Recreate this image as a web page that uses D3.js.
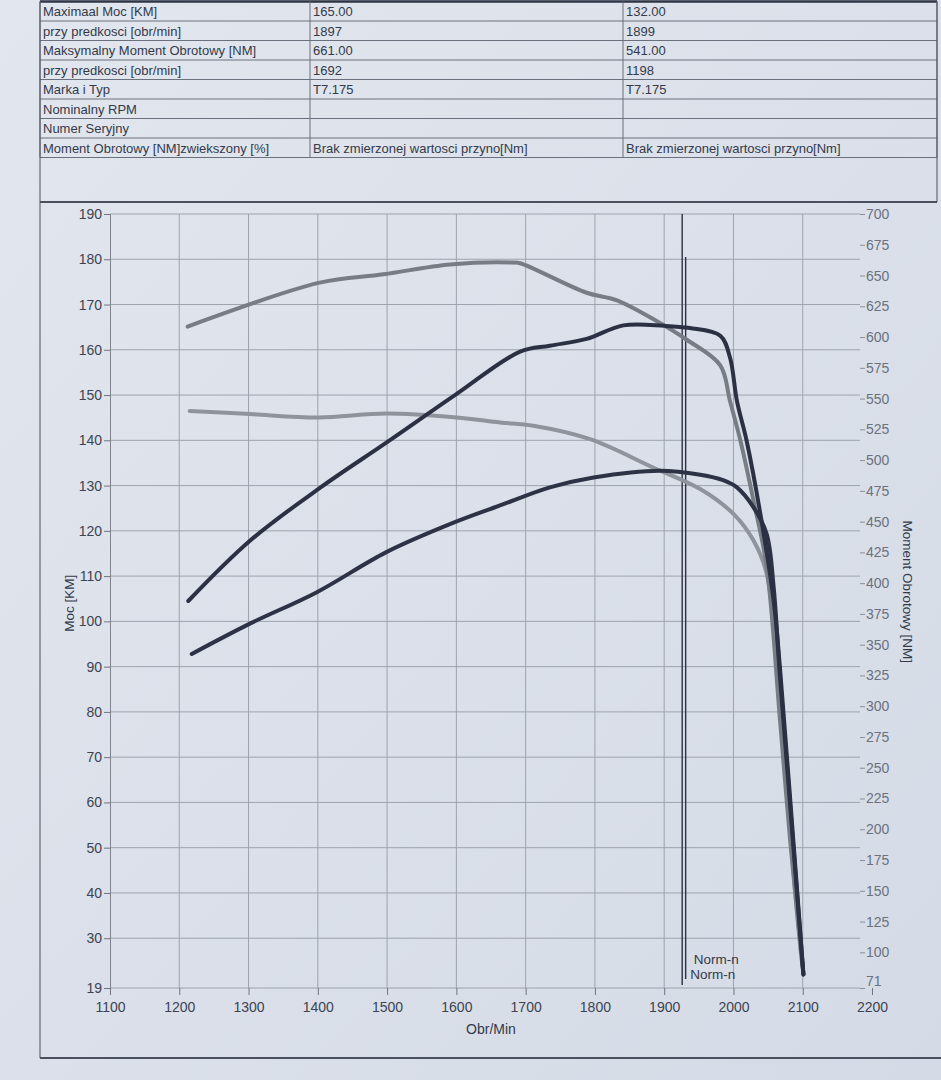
<!DOCTYPE html>
<html>
<head>
<meta charset="utf-8">
<script src="https://cdn.jsdelivr.net/npm/d3@7"></script>
<style>
  body { margin: 0; background: #dbe0ea; }
  svg { display: block; font-family: "Liberation Sans", Arial, sans-serif; }
</style>
</head>
<body>
<script>
// --- table content
const tableLabels = ['Maximaal Moc [KM]', 'przy predkosci [obr/min]', 'Maksymalny Moment Obrotowy [NM]',
  'przy predkosci [obr/min]', 'Marka i Typ', 'Nominalny RPM', 'Numer Seryjny', 'Moment Obrotowy [NM]zwiekszony [%]'];
const tableTuned = ['165.00', '1897', '661.00', '1692', 'T7.175', '', '', 'Brak zmierzonej wartosci przyno[Nm]'];
const tableStock = ['132.00', '1899', '541.00', '1198', 'T7.175', '', '', 'Brak zmierzonej wartosci przyno[Nm]'];

// --- axis ticks
const rpmTicks = [1100, 1200, 1300, 1400, 1500, 1600, 1700, 1800, 1900, 2000, 2100, 2200];
const powerTicks = [19, 30, 40, 50, 60, 70, 80, 90, 100, 110, 120, 130, 140, 150, 160, 170, 180, 190];
const torqueTicks = [71, 100, 125, 150, 175, 200, 225, 250, 275, 300, 325, 350, 375, 400, 425, 450, 475,
  500, 525, 550, 575, 600, 625, 650, 675, 700];

// --- power [KM], tuned (dark, upper)
const rpmPowerTuned = [1213, 1302, 1404, 1500, 1600, 1692, 1735, 1788, 1841, 1900, 1937, 1981, 1995, 2005, 2019, 2038, 2058, 2067, 2082, 2101];
const powerTuned = [104.5, 117.8, 129.6, 139.6, 150.2, 159.6, 160.9, 162.4, 165.4, 165.3, 164.8, 163.1, 158.3, 148.7, 139.9, 124.5, 104.6, 90, 60.5, 22];

// --- power [KM], stock (dark, lower)
const rpmPowerStock = [1218, 1302, 1398, 1499, 1596, 1663, 1735, 1798, 1894, 1952, 1985, 2005, 2029, 2048, 2058, 2067, 2082, 2101];
const powerStock = [92.8, 99.5, 106.4, 115.3, 121.8, 125.6, 129.6, 131.8, 133.3, 132.4, 131.2, 129.6, 125.2, 119.3, 107.6, 88, 59, 22];

// --- torque [NM], tuned (gray, upper)
const rpmTorqueTuned = [1212, 1401, 1495, 1591, 1682, 1692, 1788, 1831, 1889, 1932, 1981, 1995, 2010, 2029, 2048, 2067, 2082, 2101];
const torqueTuned = [608.5, 644, 651, 659, 660.5, 660, 636, 630, 613, 598, 577, 548, 516, 467, 413, 290, 190, 82];

// --- torque [NM], stock (gray, lower)
const rpmTorqueStock = [1215, 1302, 1401, 1499, 1600, 1663, 1711, 1793, 1884, 1952, 2000, 2029, 2048, 2067, 2082, 2096, 2101];
const torqueStock = [540, 537.4, 534.7, 537.9, 534.7, 530.6, 527.9, 517, 494, 476.5, 456.3, 434.6, 407.6, 304.7, 196.5, 107, 83];

// --- nominal rpm markers
const normRpm = [1926, 1931];
const normTop = [190, 180.5];   // in KM
const normLabels = ['Norm-n', 'Norm-n'];

const width = 941, height = 1080;
const ink = '#333a4a';

const svg = d3.create('svg')
  .attr('width', width)
  .attr('height', height)
  .attr('viewBox', [0, 0, width, height]);

const defs = svg.append('defs');
const grad = defs.append('linearGradient').attr('id', 'paper')
  .attr('x1', 0).attr('y1', 0).attr('x2', 1).attr('y2', 1);
grad.append('stop').attr('offset', 0).attr('stop-color', '#e2e6ee');
grad.append('stop').attr('offset', 0.5).attr('stop-color', '#dbe0ea');
grad.append('stop').attr('offset', 1).attr('stop-color', '#d5dbe6');
svg.append('rect').attr('width', width).attr('height', height).attr('fill', 'url(#paper)');

// ---------- table
const colX = [40, 310, 623, 937];
const rowTop = 1.5, rowH = 19.5;
const nRows = tableLabels.length;
const table = svg.append('g');

table.selectAll('line.row')
  .data(d3.range(nRows + 1))
  .join('line')
  .attr('x1', colX[0]).attr('x2', colX[3])
  .attr('y1', i => rowTop + i * rowH).attr('y2', i => rowTop + i * rowH)
  .attr('stroke', i => i === 0 ? '#2f3544' : '#6a707d')
  .attr('stroke-width', i => i === 0 ? 2.5 : 1);

table.selectAll('line.col')
  .data(colX)
  .join('line')
  .attr('x1', d => d).attr('x2', d => d)
  .attr('y1', rowTop).attr('y2', rowTop + nRows * rowH)
  .attr('stroke', '#6a707d');

[tableLabels, tableTuned, tableStock].forEach((col, c) => {
  table.append('g').selectAll('text')
    .data(col)
    .join('text')
    .attr('x', colX[c] + 3)
    .attr('y', (d, i) => rowTop + i * rowH + 14.5)
    .attr('font-size', 13)
    .attr('fill', ink)
    .text(d => d);
});

// frame around the chart area
const frame = svg.append('g').attr('stroke', '#4a505d').attr('fill', 'none');
frame.append('line').attr('x1', 40).attr('x2', 40).attr('y1', rowTop).attr('y2', 1058);
frame.append('line').attr('x1', 937).attr('x2', 937).attr('y1', rowTop).attr('y2', 202);
frame.append('line').attr('x1', 40).attr('x2', 937).attr('y1', 202).attr('y2', 202).attr('stroke-width', 1.8);
frame.append('line').attr('x1', 40).attr('x2', width).attr('y1', 1058).attr('y2', 1058).attr('stroke-width', 1.8);

// ---------- scales
const x = d3.scaleLinear().domain([1100, 2200]).range([110, 872]);
const yP = d3.scaleLinear().domain([19, 190]).range([988, 214]);
const yT = d3.scaleLinear().domain([71, 700]).range([988, 214]);

// grid
const grid = svg.append('g').attr('stroke', '#9ea3ad').attr('stroke-width', 1);
grid.selectAll('line.h')
  .data(powerTicks)
  .join('line')
  .attr('x1', x(1100)).attr('x2', x(2200) - 12)
  .attr('y1', d => yP(d)).attr('y2', d => yP(d));
grid.selectAll('line.v')
  .data(rpmTicks.slice(1, -1))
  .join('line')
  .attr('x1', d => x(d)).attr('x2', d => x(d))
  .attr('y1', yP(190)).attr('y2', yP(19));

// left axis
const leftAxis = svg.append('g')
  .attr('transform', `translate(${x(1100)},0)`)
  .call(d3.axisLeft(yP).tickValues(powerTicks).tickFormat(d3.format('d')).tickSize(6).tickPadding(2));
leftAxis.select('.domain').attr('stroke', '#7d828d');
leftAxis.selectAll('.tick line').attr('stroke', '#6f7480');
leftAxis.selectAll('text').attr('font-size', 14).attr('fill', '#3d4352')
  .attr('font-family', '"Liberation Sans", Arial, sans-serif');

// bottom axis
const bottomAxis = svg.append('g')
  .attr('transform', `translate(0,${yP(19)})`)
  .call(d3.axisBottom(x).tickValues(rpmTicks).tickFormat(d3.format('d')).tickSize(7).tickPadding(7));
bottomAxis.select('.domain').remove();
bottomAxis.selectAll('.tick line').attr('stroke', '#6f7480');
bottomAxis.selectAll('text').attr('font-size', 14).attr('fill', '#3d4352')
  .attr('font-family', '"Liberation Sans", Arial, sans-serif');

// right axis
const rightAxis = svg.append('g')
  .attr('transform', `translate(${x(2200) - 12},0)`)
  .call(d3.axisRight(yT).tickValues(torqueTicks).tickFormat(d3.format('d')).tickSize(5).tickPadding(1));
rightAxis.select('.domain').remove();
rightAxis.selectAll('.tick line').attr('stroke', '#8a8f99');
rightAxis.selectAll('text').attr('font-size', 14).attr('fill', '#6b717e')
  .attr('font-family', '"Liberation Sans", Arial, sans-serif');
rightAxis.selectAll('.tick').filter(d => d === 71).select('text').attr('dy', '-0.2em');

// axis titles
svg.append('text')
  .attr('transform', `translate(74,${yP(104)}) rotate(-90)`)
  .attr('text-anchor', 'middle')
  .attr('font-size', 13.5)
  .attr('fill', ink)
  .text('Moc [KM]');
svg.append('text')
  .attr('transform', `translate(903,${yT(393)}) rotate(90)`)
  .attr('text-anchor', 'middle')
  .attr('font-size', 13.5)
  .attr('fill', ink)
  .text('Moment Obrotowy [NM]');
svg.append('text')
  .attr('x', x(1650))
  .attr('y', 1034)
  .attr('text-anchor', 'middle')
  .attr('font-size', 14)
  .attr('fill', ink)
  .text('Obr/Min');

// nominal rpm lines
const norm = svg.append('g');
norm.selectAll('line')
  .data(normRpm)
  .join('line')
  .attr('x1', d => x(d)).attr('x2', d => x(d))
  .attr('y1', (d, i) => yP(normTop[i]))
  .attr('y2', (d, i) => yP(19) + (i === 0 ? -3 : -9))
  .attr('stroke', '#2c3242')
  .attr('stroke-width', 1.4);
norm.selectAll('text')
  .data(normRpm)
  .join('text')
  .attr('x', d => x(d) + 8)
  .attr('y', (d, i) => yP(19) - (i === 0 ? 9 : 24))
  .attr('font-size', 13.5)
  .attr('fill', ink)
  .text((d, i) => normLabels[i]);

// curves (light smoothing, passes through the read points)
const lineP = d3.line().x(d => x(d[0])).y(d => yP(d[1])).curve(d3.curveCatmullRom.alpha(0.5));
const lineT = d3.line().x(d => x(d[0])).y(d => yT(d[1])).curve(d3.curveCatmullRom.alpha(0.5));

const curves = [
  { pts: d3.zip(rpmTorqueStock, torqueStock), gen: lineT, color: '#8f939b' },
  { pts: d3.zip(rpmTorqueTuned, torqueTuned), gen: lineT, color: '#787c85' },
  { pts: d3.zip(rpmPowerStock, powerStock), gen: lineP, color: '#2d3344' },
  { pts: d3.zip(rpmPowerTuned, powerTuned), gen: lineP, color: '#2b3142' }
];

svg.append('g').selectAll('path')
  .data(curves)
  .join('path')
  .attr('d', d => d.gen(d.pts))
  .attr('fill', 'none')
  .attr('stroke', d => d.color)
  .attr('stroke-width', 4)
  .attr('stroke-linejoin', 'round')
  .attr('stroke-linecap', 'round');

document.body.appendChild(svg.node());
</script>
</body>
</html>
